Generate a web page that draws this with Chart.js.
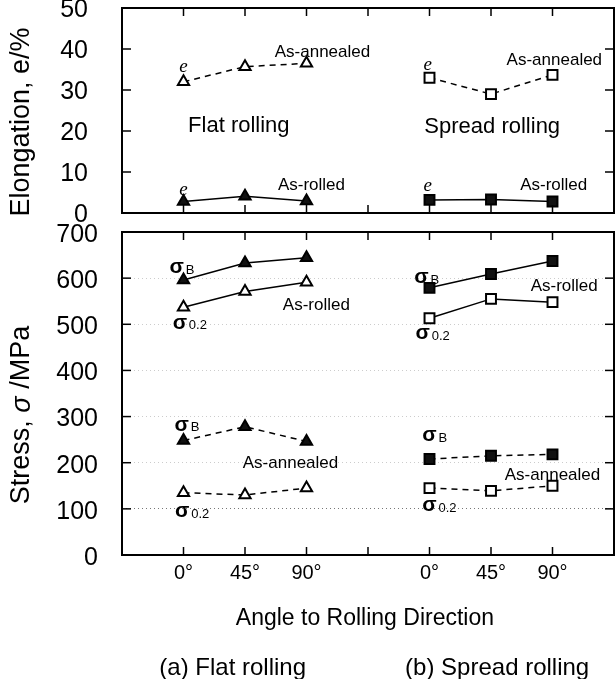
<!DOCTYPE html>
<html>
<head>
<meta charset="utf-8">
<script src="https://cdn.jsdelivr.net/npm/chart.js@4/dist/chart.umd.min.js"></script>
<style>
  html, body { margin: 0; padding: 0; background: #fff; }
  #wrap { position: relative; width: 615px; height: 679px; }
  canvas { position: absolute; left: 0; }
</style>
</head>
<body>
<div id="wrap">
  <canvas id="elong" width="615" height="240" style="top:0"></canvas>
  <canvas id="stress" width="615" height="479" style="top:200px"></canvas>
</div>
<script>
// ---- data ----
const flatX = [0, 1, 2];     // flat rolling: 0°, 45°, 90°
const spreadX = [4, 5, 6];   // spread rolling: 0°, 45°, 90°
const angleLabels = ["0°", "45°", "90°", "", "0°", "45°", "90°"];

// elongation, %
const flatAnnealedElong = [32, 35.7, 36.5];
const flatRolledElong = [2.8, 4.1, 2.9];
const spreadAnnealedElong = [33, 29, 33.7];
const spreadRolledElong = [3.2, 3.3, 2.8];

// stress, MPa
const flatRolledUTS = [596, 633, 644];
const flatRolledYS = [537, 571, 591];
const flatAnnealedUTS = [248, 278, 246];
const flatAnnealedYS = [135, 130, 145];
const spreadRolledUTS = [579, 609, 637];
const spreadRolledYS = [513, 555, 548];
const spreadAnnealedUTS = [208, 215, 218];
const spreadAnnealedYS = [145, 139, 150];

const SANS = "'Liberation Sans', Arial, sans-serif";
const SERIF = "'Liberation Serif', 'Times New Roman', serif";

function pts(xs, ys) { return xs.map((x, i) => ({ x, y: ys[i] })); }

function series(xs, ys, filled, shape, dashed) {
  return {
    data: pts(xs, ys),
    showLine: true,
    borderColor: "#000",
    borderWidth: 1.5,
    borderDash: dashed ? [6, 5] : [],
    pointStyle: shape,
    pointRadius: shape === "rect" ? 7 : 6.5,
    pointBackgroundColor: filled ? "#111" : "#fff",
    pointBorderColor: "#000",
    pointBorderWidth: 2,
    clip: false
  };
}

// frame box + inward tick marks
const framePlugin = {
  id: "frame",
  afterDraw(chart) {
    const { ctx, chartArea: a, scales: { x, y } } = chart;
    ctx.save();
    ctx.strokeStyle = "#000";
    ctx.lineWidth = 2;
    ctx.strokeRect(a.left, a.top, a.right - a.left, a.bottom - a.top);
    ctx.lineWidth = 1.5;
    const seg = (x1, y1, x2, y2) => { ctx.beginPath(); ctx.moveTo(x1, y1); ctx.lineTo(x2, y2); ctx.stroke(); };
    x.ticks.forEach(t => {
      if (t.value <= x.min || t.value >= x.max) return;
      const px = x.getPixelForValue(t.value);
      seg(px, a.bottom, px, a.bottom - 8);
      seg(px, a.top, px, a.top + 8);
    });
    y.ticks.forEach(t => {
      if (t.value <= y.min || t.value >= y.max) return;
      const py = y.getPixelForValue(t.value);
      seg(a.left, py, a.left + 9, py);
      seg(a.right, py, a.right - 9, py);
    });
    ctx.restore();
  }
};

// text notes placed in data units
const notesPlugin = {
  id: "notes",
  afterDraw(chart, args, o) {
    const { ctx, scales: { x, y } } = chart;
    ctx.save();
    ctx.fillStyle = "#000";
    ctx.textBaseline = "middle";
    (o.list || []).forEach(n => {
      const px = x.getPixelForValue(n.x), py = y.getPixelForValue(n.y);
      if (n.t === "e") {
        ctx.font = "italic 19px " + SERIF;
        ctx.textAlign = "center";
        ctx.fillText("e", px, py);
      } else if (n.t === "sig") {
        ctx.font = "bold 21px " + SANS;
        ctx.textAlign = "center";
        ctx.fillText("σ", px, py);
        ctx.font = "13px " + SANS;
        ctx.textAlign = "left";
        ctx.fillText(n.sub, px + 9, py + 3);
      } else {
        ctx.font = (n.size || 17) + "px " + SANS;
        ctx.textAlign = "center";
        ctx.fillText(n.s, px, py);
      }
    });
    ctx.restore();
  }
};

// rotated y title with mixed fonts
const yTitlePlugin = {
  id: "yTitle",
  afterDraw(chart, args, o) {
    const ctx = chart.ctx;
    ctx.save();
    ctx.translate(o.cx, o.cy);
    ctx.rotate(-Math.PI / 2);
    ctx.fillStyle = "#000";
    ctx.textBaseline = "middle";
    ctx.textAlign = "left";
    let total = 0;
    o.parts.forEach(p => { ctx.font = p.font; total += ctx.measureText(p.s).width; });
    let xx = -total / 2;
    o.parts.forEach(p => { ctx.font = p.font; ctx.fillText(p.s, xx, 0); xx += ctx.measureText(p.s).width; });
    ctx.restore();
  }
};

function xScale(showLabels, height) {
  return {
    type: "linear", min: -1, max: 7,
    afterFit: s => { s.height = height; s.paddingLeft = 0; s.paddingRight = 0; },
    afterBuildTicks: s => { s.ticks = [-1, 0, 1, 2, 3, 4, 5, 6, 7].map(v => ({ value: v })); },
    grid: { display: false, drawTicks: false },
    border: { display: false },
    ticks: {
      display: showLabels, autoSkip: false, maxRotation: 0, padding: 6, color: "#000",
      font: { family: SANS, size: 20 },
      callback: v => angleLabels[v] || ""
    }
  };
}

function yFit(s) { s.width = 122; s.paddingTop = 0; s.paddingBottom = 0; }

Chart.defaults.animation = false;

new Chart(document.getElementById("elong"), {
  type: "scatter",
  data: {
    datasets: [
      series(flatX, flatAnnealedElong, false, "triangle", true),
      series(flatX, flatRolledElong, true, "triangle", false),
      series(spreadX, spreadAnnealedElong, false, "rect", true),
      series(spreadX, spreadRolledElong, true, "rect", false)
    ]
  },
  options: {
    responsive: false,
    layout: { autoPadding: false, padding: { top: 8, right: 1, left: 0, bottom: 0 } },
    scales: {
      x: xScale(false, 27),
      y: {
        min: 0, max: 50,
        afterFit: yFit,
        grid: { display: false, drawTicks: false },
        border: { display: false },
        ticks: { stepSize: 10, padding: 34, labelOffset: 2, color: "#000", font: { family: SANS, size: 25 } }
      }
    },
    plugins: {
      legend: { display: false },
      tooltip: { enabled: false },
      notes: {
        list: [
          { t: "e", x: 0, y: 35.6 },
          { t: "text", s: "As-annealed", x: 2.26, y: 39.3 },
          { t: "text", s: "Flat rolling", x: 0.9, y: 21.2, size: 22 },
          { t: "e", x: 0, y: 5.6 },
          { t: "text", s: "As-rolled", x: 2.08, y: 6.8 },
          { t: "e", x: 3.97, y: 36.1 },
          { t: "text", s: "As-annealed", x: 6.03, y: 37.3 },
          { t: "text", s: "Spread rolling", x: 5.02, y: 21, size: 22 },
          { t: "e", x: 3.97, y: 6.6 },
          { t: "text", s: "As-rolled", x: 6.02, y: 6.8 }
        ]
      },
      yTitle: { cx: 22, cy: 122, parts: [{ s: "Elongation, e/%", font: "27px " + SANS }] }
    }
  },
  plugins: [framePlugin, notesPlugin, yTitlePlugin]
});

new Chart(document.getElementById("stress"), {
  type: "scatter",
  data: {
    datasets: [
      series(flatX, flatRolledUTS, true, "triangle", false),
      series(flatX, flatRolledYS, false, "triangle", false),
      series(flatX, flatAnnealedUTS, true, "triangle", true),
      series(flatX, flatAnnealedYS, false, "triangle", true),
      series(spreadX, spreadRolledUTS, true, "rect", false),
      series(spreadX, spreadRolledYS, false, "rect", false),
      series(spreadX, spreadAnnealedUTS, true, "rect", true),
      series(spreadX, spreadAnnealedYS, false, "rect", true)
    ]
  },
  options: {
    responsive: false,
    layout: { autoPadding: false, padding: { top: 32, right: 1, left: 0, bottom: 0 } },
    scales: {
      x: xScale(true, 124),
      y: {
        min: 0, max: 700,
        afterFit: yFit,
        grid: {
          drawTicks: false,
          lineWidth: 1,
          color: c => c.tick.value === 100 ? "#777" : (c.tick.value === 0 || c.tick.value === 700 ? "rgba(0,0,0,0)" : "#ccc")
        },
        border: { display: false, dash: [1, 3] },
        ticks: { stepSize: 100, padding: 24, labelOffset: 3, color: "#000", font: { family: SANS, size: 25 } }
      }
    },
    plugins: {
      legend: { display: false },
      tooltip: { enabled: false },
      notes: {
        list: [
          { t: "sig", sub: "B", x: -0.11, y: 624 },
          { t: "sig", sub: "0.2", x: -0.06, y: 503 },
          { t: "text", s: "As-rolled", x: 2.16, y: 542 },
          { t: "sig", sub: "B", x: 3.87, y: 602 },
          { t: "sig", sub: "0.2", x: 3.89, y: 481 },
          { t: "text", s: "As-rolled", x: 6.19, y: 583 },
          { t: "sig", sub: "B", x: -0.03, y: 282 },
          { t: "text", s: "As-annealed", x: 1.74, y: 199 },
          { t: "sig", sub: "0.2", x: -0.02, y: 95 },
          { t: "sig", sub: "B", x: 4.0, y: 260 },
          { t: "text", s: "As-annealed", x: 6.0, y: 173 },
          { t: "sig", sub: "0.2", x: 4.0, y: 108 },
          { t: "text", s: "Angle to Rolling Direction", x: 2.95, y: -137, size: 23 },
          { t: "text", s: "(a) Flat rolling", x: 0.8, y: -246, size: 24 },
          { t: "text", s: "(b) Spread rolling", x: 5.1, y: -246, size: 24 }
        ]
      },
      yTitle: {
        cx: 22, cy: 215,
        parts: [
          { s: "Stress, ", font: "27px " + SANS },
          { s: "σ", font: "italic 27px " + SANS },
          { s: " /MPa", font: "27px " + SANS }
        ]
      }
    }
  },
  plugins: [framePlugin, notesPlugin, yTitlePlugin]
});
</script>
</body>
</html>
